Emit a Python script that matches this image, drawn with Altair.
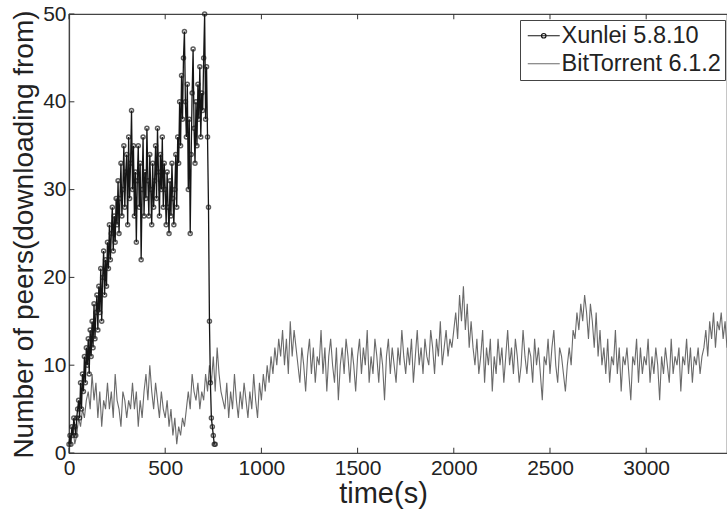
import altair as alt
import pandas as pd

series_names = ["Xunlei 5.8.10", "BitTorrent 6.1.2"]

xl_time = list(range(0, 765, 5))
xl_peers = [1, 2, 1, 3, 2, 4, 3, 2, 4, 5,
            6, 4, 8, 5, 9, 7, 11, 8, 12, 10,
            13, 9, 14, 11, 15, 12, 17, 13, 16, 18,
            14, 19, 16, 21, 15, 20, 23, 18, 22, 19,
            24, 21, 26, 22, 25, 28, 23, 27, 24, 29,
            26, 31, 25, 29, 33, 27, 30, 35, 28, 32,
            34, 26, 36, 29, 33, 39, 30, 35, 27, 32,
            24, 31, 35, 28, 33, 22, 30, 36, 27, 32,
            29, 37, 31, 27, 34, 30, 26, 33, 28, 31,
            35, 29, 37, 32, 27, 34, 30, 36, 28, 33,
            30, 26, 32, 28, 25, 31, 27, 33, 29, 26,
            30, 34, 28, 36, 33, 40, 35, 43, 38, 45,
            48, 40, 36, 42, 30, 38, 25, 34, 41, 46,
            37, 33, 40, 35, 42, 38, 44, 36, 41, 39,
            45, 50, 38, 44, 36, 28, 15, 8, 4, 3,
            2, 1, 1]

bt_time = list(range(0, 3430, 10))
bt_peers = [1, 2, 3, 1, 2, 4, 3, 5, 4, 6,
            7, 5, 9, 6, 8, 4, 7, 3, 6, 5,
            8, 5, 7, 4, 9, 6, 5, 3, 7, 6,
            4, 6, 5, 8, 5, 7, 3, 6, 4, 7,
            9, 6, 10, 7, 5, 8, 6, 4, 7, 5,
            4, 6, 3, 5, 2, 4, 1, 3, 2, 4,
            3, 5, 7, 5, 9, 7, 6, 8, 5, 7,
            6, 9, 7, 10, 8, 11, 7, 12, 9, 7,
            6, 5, 8, 4, 7, 5, 9, 6, 4, 7,
            5, 8, 6, 4, 7, 5, 9, 6, 4, 8,
            6, 9, 7, 10, 8, 11, 9, 12, 10, 13,
            11, 14, 10, 13, 9, 15, 11, 14, 12, 10,
            8, 12, 10, 7, 11, 13, 9, 12, 8, 11,
            10, 14, 9, 12, 7, 11, 13, 10, 8, 12,
            6, 10, 12, 9, 13, 11, 8, 12, 10, 7,
            11, 13, 9, 12, 10, 14, 8, 11, 9, 13,
            11, 8, 12, 10, 6, 11, 13, 9, 12, 10,
            8, 12, 10, 14, 11, 9, 12, 10, 13, 8,
            11, 14, 10, 12, 9, 13, 11, 10, 14, 12,
            9, 13, 11, 15, 10, 12, 14, 11, 13, 12,
            14, 16, 13, 18, 15, 19, 14, 17, 12, 15,
            12, 10, 13, 9, 11, 14, 8, 12, 10, 13,
            7, 11, 9, 13, 10, 12, 8, 11, 14, 10,
            12, 9, 13, 11, 8, 10, 14, 11, 9, 12,
            11, 8, 13, 10, 12, 9, 6, 11, 10, 13,
            9, 12, 14, 10, 8, 12, 11, 9, 7, 10,
            12, 10, 14, 13, 16, 14, 17, 15, 18, 16,
            13, 17, 15, 12, 16, 11, 14, 10, 12, 9,
            13, 8, 11, 10, 14, 9, 12, 7, 11, 10,
            12, 9, 6, 11, 10, 13, 8, 12, 9, 11,
            10, 13, 8, 11, 9, 12, 10, 6, 11, 9,
            12, 10, 8, 13, 9, 11, 10, 12, 7, 11,
            10, 13, 9, 12, 8, 11, 10, 12, 9, 11,
            12, 14, 11, 15, 13, 16, 12, 15, 14, 16,
            13, 15, 12]

x_ticks = [0, 500, 1000, 1500, 2000, 2500, 3000]
y_ticks = [0, 10, 20, 30, 40, 50]

df_xl = pd.DataFrame({"time": xl_time, "peers": xl_peers, "series": series_names[0]})
df_bt = pd.DataFrame({"time": bt_time, "peers": bt_peers, "series": series_names[1]})
df_leg = pd.concat([df_xl.head(1), df_bt.head(1)])
df_xt = pd.DataFrame({"t": x_ticks})
df_yt = pd.DataFrame({"v": y_ticks})

XMAX = 3420
xs = alt.Scale(domain=[0, XMAX], nice=False, zero=False)
ys = alt.Scale(domain=[0, 50], nice=False)

color_scale = alt.Scale(domain=series_names, range=["#151515", "#6a6a6a"])
xl_path = "M-1,0H3M1.28,0A0.28,0.28,0,1,1,0.72,0A0.28,0.28,0,1,1,1.28,0"
shape_scale = alt.Scale(domain=series_names, range=[xl_path, "M-1,0H3"])
leg = alt.Legend(title=None, symbolOpacity=1)

x_enc = alt.X("time:Q", scale=xs,
              axis=alt.Axis(values=x_ticks, format="d", title="time(s)", ticks=False,
                            grid=False, labelFontSize=21, titleFontSize=29, labelPadding=4,
                            titleX=314, titleY=26, labelFlush=False))
y_enc = alt.Y("peers:Q", scale=ys,
              axis=alt.Axis(values=y_ticks, title="Number of peers(downloading from)",
                            ticks=False, grid=False, labelFontSize=21, titleFontSize=28,
                            labelPadding=3, titleX=-31, titleY=220, labelFlush=False))

bt_line = alt.Chart(df_bt).mark_line(strokeWidth=1.1, interpolate="linear").encode(
    x=x_enc, y=y_enc,
    color=alt.Color("series:N", scale=color_scale, legend=leg))

xl_line = alt.Chart(df_xl).mark_line(strokeWidth=1.3).encode(
    x="time:Q", y="peers:Q",
    color=alt.Color("series:N", scale=color_scale, legend=leg))

xl_pts = alt.Chart(df_xl).mark_point(filled=False, size=16, strokeWidth=1.5,
                                    color="#1a1a1a").encode(x="time:Q", y="peers:Q")

leg_layer = alt.Chart(df_leg).mark_point(opacity=0, filled=False).encode(
    x="time:Q", y="peers:Q",
    color=alt.Color("series:N", scale=color_scale, legend=leg),
    shape=alt.Shape("series:N", scale=shape_scale, legend=leg))

tick_col = "#333333"
bot_ticks = alt.Chart(df_xt).mark_rule(color=tick_col, strokeWidth=1).encode(
    x="t:Q", y=alt.datum(0), y2=alt.datum(0.6))
top_ticks = alt.Chart(df_xt).mark_rule(color=tick_col, strokeWidth=1).encode(
    x="t:Q", y=alt.datum(49.4), y2=alt.datum(50))
left_ticks = alt.Chart(df_yt).mark_rule(color=tick_col, strokeWidth=1).encode(
    y="v:Q", x=alt.datum(0), x2=alt.datum(28))

chart = alt.layer(bt_line, xl_line, xl_pts, leg_layer, bot_ticks, top_ticks, left_ticks).properties(
    width=658, height=439,
    autosize=alt.AutoSizeParams(type="none"),
    padding={"left": 69, "top": 14, "right": 0, "bottom": 61},
    background="white",
).configure(
    font="Liberation Sans"
).configure_view(
    stroke="#444444", strokeWidth=1.2
).configure_axis(
    domainColor="#444444", domainWidth=1.2, labelColor="#222222", titleColor="#222222",
    titleFontWeight="normal", labelFont="Liberation Sans", titleFont="Liberation Sans"
).configure_legend(
    orient="none", legendX=451, legendY=6, strokeColor="#444444", fillColor="white",
    padding=4, labelFontSize=23.5, labelColor="#222222", symbolSize=256,
    symbolStrokeWidth=1.2, rowPadding=3, labelOffset=14, labelLimit=400,
    cornerRadius=0
)

chart.save("out.html", embed_options={"renderer": "svg", "actions": False})
